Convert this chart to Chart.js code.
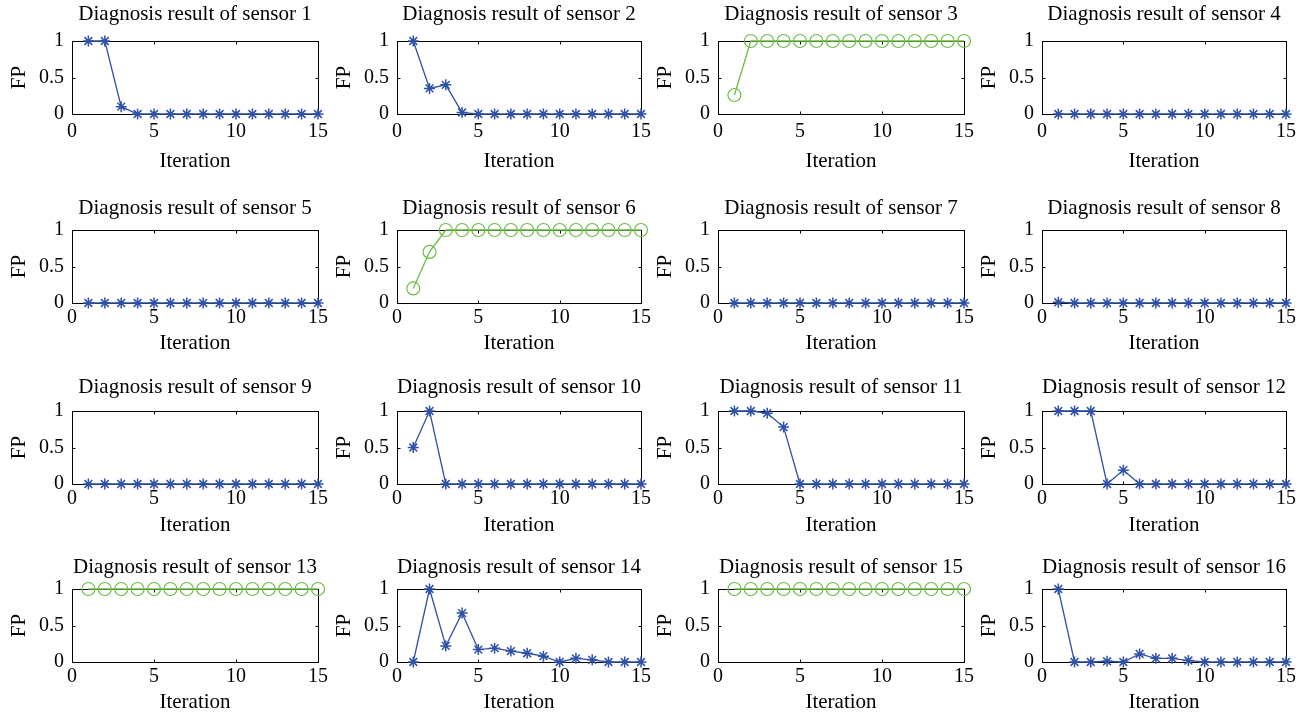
<!DOCTYPE html>
<html>
<head>
<meta charset="utf-8">
<script src="https://cdn.jsdelivr.net/npm/chart.js@4.4.0/dist/chart.umd.min.js"></script>
<style>
html, body { margin:0; padding:0; background:#fff; overflow:hidden; width:1305px; height:716px; }
#wrap { position:relative; width:1305px; height:716px; }
#wrap canvas { position:absolute; }
</style>
</head>
<body>
<div id="wrap"></div>
<script>
const iterations = [1, 2, 3, 4, 5, 6, 7, 8, 9, 10, 11, 12, 13, 14, 15];
const xTicks = [0, 5, 10, 15];
const yTicks = [0, 0.5, 1];

const sensor1  = [1, 1, 0.1, 0, 0, 0, 0, 0, 0, 0, 0, 0, 0, 0, 0];
const sensor2  = [1, 0.35, 0.4, 0.02, 0, 0, 0, 0, 0, 0, 0, 0, 0, 0, 0];
const sensor3  = [0.26, 1, 1, 1, 1, 1, 1, 1, 1, 1, 1, 1, 1, 1, 1];
const sensor4  = [0, 0, 0, 0, 0, 0, 0, 0, 0, 0, 0, 0, 0, 0, 0];
const sensor5  = [0, 0, 0, 0, 0, 0, 0, 0, 0, 0, 0, 0, 0, 0, 0];
const sensor6  = [0.2, 0.7, 1, 1, 1, 1, 1, 1, 1, 1, 1, 1, 1, 1, 1];
const sensor7  = [0, 0, 0, 0, 0, 0, 0, 0, 0, 0, 0, 0, 0, 0, 0];
const sensor8  = [0.01, 0, 0, 0, 0, 0, 0, 0, 0, 0, 0, 0, 0, 0, 0];
const sensor9  = [0, 0, 0, 0, 0, 0, 0, 0, 0, 0, 0, 0, 0, 0, 0];
const sensor10 = [0.5, 1, 0, 0, 0, 0, 0, 0, 0, 0, 0, 0, 0, 0, 0];
const sensor11 = [1, 1, 0.97, 0.78, 0, 0, 0, 0, 0, 0, 0, 0, 0, 0, 0];
const sensor12 = [1, 1, 1, 0, 0.19, 0, 0, 0, 0, 0, 0, 0, 0, 0, 0];
const sensor13 = [1, 1, 1, 1, 1, 1, 1, 1, 1, 1, 1, 1, 1, 1, 1];
const sensor14 = [0, 1, 0.22, 0.67, 0.17, 0.19, 0.15, 0.12, 0.08, 0, 0.05, 0.03, 0, 0, 0];
const sensor15 = [1, 1, 1, 1, 1, 1, 1, 1, 1, 1, 1, 1, 1, 1, 1];
const sensor16 = [1, 0, 0, 0.01, 0, 0.11, 0.05, 0.05, 0.02, 0, 0, 0, 0, 0, 0];

const faultySensors = [3, 6, 13, 15];

const sensorValues = [sensor1, sensor2, sensor3, sensor4, sensor5, sensor6, sensor7, sensor8,
                      sensor9, sensor10, sensor11, sensor12, sensor13, sensor14, sensor15, sensor16];

// layout of the 4x4 grid (plot area pixels)
const plotLeft  = [72, 397, 718, 1042];
const plotWidth = [246, 244, 246, 244];
const plotTop   = [41, 230, 411, 589];
const plotH     = 73;
const titleGap  = [27, 22, 23.5, 22];
const tickPad   = [6, 3, 3, 3];
const iterGap   = [47.5, 40, 41.5, 40.5];

const FONT = 'Liberation Serif, Times New Roman, serif';
const BLUE = '#2f52a8';
const GREEN = '#6cbd45';
const TOP_H = 48, Y_W = 72, RIGHT_PAD = 24;

const boxPlugin = {
    id: 'box',
    beforeDatasetsDraw(chart) {
        const { ctx, chartArea: a, scales: { x, y } } = chart;
        const L = Math.round(a.left) + 0.5, R = Math.round(a.right) + 0.5;
        const T = Math.round(a.top) + 0.5, B = Math.round(a.bottom) + 0.5;
        ctx.save();
        ctx.strokeStyle = '#000';
        ctx.lineWidth = 1;
        ctx.strokeRect(L, T, R - L, B - T);
        ctx.beginPath();
        xTicks.forEach(v => {
            const px = Math.round(x.getPixelForValue(v)) + 0.5;
            ctx.moveTo(px, B); ctx.lineTo(px, B - 3);
            ctx.moveTo(px, T); ctx.lineTo(px, T + 3);
        });
        yTicks.forEach(v => {
            const py = Math.round(y.getPixelForValue(v)) + 0.5;
            ctx.moveTo(L, py); ctx.lineTo(L + 3, py);
            ctx.moveTo(R, py); ctx.lineTo(R - 3, py);
        });
        ctx.stroke();
        ctx.restore();
    }
};

const wrap = document.getElementById('wrap');

sensorValues.forEach((vals, i) => {
    const r = Math.floor(i / 4), c = i % 4;
    const xH = Math.ceil(iterGap[r] + 12.6 + 2);
    const cv = document.createElement('canvas');
    const w = Y_W + plotWidth[c] + RIGHT_PAD;
    const h = TOP_H + plotH + xH;
    cv.width = w; cv.height = h;
    cv.style.left = (plotLeft[c] - Y_W) + 'px';
    cv.style.top = (plotTop[r] - TOP_H) + 'px';
    cv.style.width = w + 'px'; cv.style.height = h + 'px';
    wrap.appendChild(cv);

    const faulty = faultySensors.includes(i + 1);
    const col = faulty ? GREEN : BLUE;

    new Chart(cv, {
        type: 'line',
        data: {
            datasets: [{
                data: iterations.map((it, k) => ({ x: it, y: vals[k] })),
                borderColor: col,
                borderWidth: 1.3,
                pointStyle: faulty ? 'circle' : 'star',
                pointRadius: faulty ? 6.5 : 5.5,
                pointBorderWidth: faulty ? 1.2 : 1.5,
                pointBorderColor: col,
                pointBackgroundColor: faulty ? 'rgba(0,0,0,0)' : col,
                tension: 0,
                clip: false,
            }]
        },
        options: {
            responsive: false,
            animation: false,
            events: [],
            layout: { padding: { left: 0, top: 0, right: RIGHT_PAD, bottom: 0 } },
            plugins: {
                legend: { display: false },
                tooltip: { enabled: false },
                title: {
                    display: true,
                    fullSize: false,
                    text: 'Diagnosis result of sensor ' + (i + 1),
                    color: '#000',
                    font: { family: FONT, size: 21, weight: 'normal', lineHeight: 1.2 },
                    padding: { top: TOP_H - titleGap[r] - 12.6, bottom: titleGap[r] - 12.6 }
                }
            },
            scales: {
                x: {
                    type: 'linear',
                    min: 0, max: 15,
                    grid: { display: false, drawTicks: false },
                    border: { display: false },
                    ticks: {
                        stepSize: 5, autoSkip: false, maxRotation: 0,
                        padding: tickPad[r], color: '#000',
                        font: { family: FONT, size: 20, lineHeight: 1.2 }
                    },
                    title: {
                        display: true, text: 'Iteration', color: '#000',
                        font: { family: FONT, size: 21, lineHeight: 1.2 },
                        padding: { top: 0, bottom: xH - 12.6 - iterGap[r] }
                    },
                    afterFit(scale) { scale.height = xH; }
                },
                y: {
                    min: 0, max: 1,
                    grid: { display: false, drawTicks: false },
                    border: { display: false },
                    ticks: {
                        stepSize: 0.5, padding: 8, color: '#000',
                        font: { family: FONT, size: 20, lineHeight: 1.2 },
                        callback: v => String(v)
                    },
                    title: {
                        display: true, text: 'FP', color: '#000',
                        font: { family: FONT, size: 21, lineHeight: 1.2 },
                        padding: { top: 7, bottom: 0 }
                    },
                    afterFit(scale) { scale.width = Y_W; }
                }
            }
        },
        plugins: [boxPlugin]
    });
});
</script>
</body>
</html>
